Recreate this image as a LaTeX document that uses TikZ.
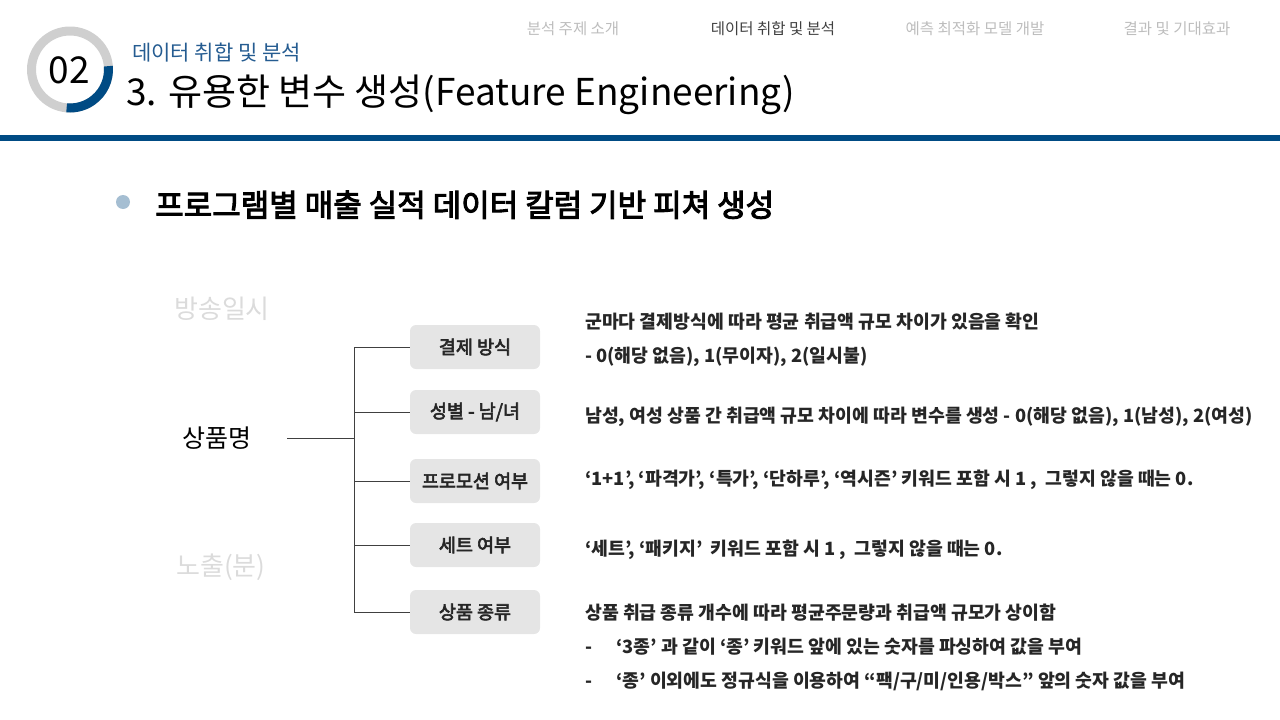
\documentclass[tikz,border=0pt]{standalone}
\usepackage{fontspec}
\setmainfont{Noto Sans CJK KR}
\newfontfamily\krmedium{Noto Sans CJK KR}[FakeBold=3.2]
\usetikzlibrary{positioning}

\newcommand\setpx[1]{\fontsize{#1pt}{#1pt}\selectfont}

\begin{document}
\begin{tikzpicture}[x=1pt,y=-1pt]
  % Colors
  \definecolor{navblue}{HTML}{004B84}
  \definecolor{subblue}{HTML}{255C91}
  \definecolor{bulletblue}{HTML}{A5BED2}
  \colorlet{ringgrey}{white!81!black}
  \colorlet{boxgrey}{white!90!black}
  \colorlet{ghostgrey}{white!86!black}
  \colorlet{navgrey}{white!74!black}
  \colorlet{navdark}{black!75}
  \colorlet{textdark}{black!85}

  % Styles
  \tikzstyle{nav item}=[inner sep=0pt,font=\setpx{15.5}]
  \tikzstyle{ghost text}=[inner sep=0pt,text=ghostgrey,font=\setpx{26}]
  \tikzstyle{feature box}=[fill=boxgrey,rounded corners=6pt,minimum width=130pt,
    minimum height=44pt,inner sep=0pt,text=textdark,font=\krmedium\setpx{18.5}]
  \tikzstyle{explain text}=[anchor=base west,inner sep=0pt,text=textdark,
    font=\setpx{18.3}\bfseries]
  \tikzstyle{branch line}=[black!75,line width=0.9pt]

  \useasboundingbox (0,0) rectangle (1280,720);

  % Header: logo ring
  \coordinate (logo) at (70,69.5);
  \fill[ringgrey,even odd rule] (logo) circle (43pt) (logo) circle (34pt);
  \fill[navblue] (logo) ++(5:43pt) arc[start angle=5,end angle=-95,radius=43pt]
    -- ++(85:9pt) arc[start angle=-95,end angle=5,radius=34pt] -- cycle;
  \node[inner sep=0pt,font=\setpx{37}] (num) at (69,70) {02};

  % Header: titles
  \node[anchor=base west,inner sep=0pt,text=subblue,font=\setpx{21}] (subtitle)
    at (132,60) {데이터 취합 및 분석};
  \node[anchor=base west,inner sep=0pt,font=\setpx{37}] (title)
    at (126,105) {3. 유용한 변수 생성(Feature Engineering)};

  \foreach \x/\txt/\col in {573/분석 주제 소개/navgrey, 773/데이터 취합 및 분석/navdark,
      975/예측 최적화 모델 개발/navgrey, 1177/결과 및 기대효과/navgrey}
    \node[nav item,text=\col] (nav-\x) at (\x,29) {\txt};

  \fill[navblue] (0,135) rectangle (1280,141);

  % Bullet heading
  \fill[bulletblue] (123,202) circle (7pt);
  \node[anchor=base west,inner sep=0pt,font=\krmedium\setpx{31}] (heading)
    at (155,216.5) {프로그램별 매출 실적 데이터 칼럼 기반 피쳐 생성};

  % Faded column names
  \node[ghost text] (airtime) at (222,309) {방송일시};
  \node[ghost text] (exposure) at (221,567) {노출(분)};

  % The tree
  \node[inner sep=0pt,minimum width=140pt,font=\setpx{25}] (root) at (217,438) {상품명};
  \coordinate (jn) at (354,438);

  \foreach \n/\y/\txt in {1/347/결제 방식, 2/412/{성별 - 남/녀}, 3/481/프로모션 여부,
      4/545/세트 여부, 5/612/상품 종류}
    \node[feature box] (box\n) at (475,\y) {\txt};

  \draw[branch line] (root.east) -- (jn);
  \draw[branch line] (jn |- box1.west) -- (jn |- box5.west);
  \foreach \n in {1,...,5}
    \draw[branch line] (jn |- box\n.west) -- (box\n.west);

  % Explanations
  \node[explain text] (pay1) at (585,328) {군마다 결제방식에 따라 평균 취급액 규모 차이가 있음을 확인};
  \node[explain text] (pay2) at (585,362) {- 0(해당 없음), 1(무이자), 2(일시불)};
  \node[explain text] (sex) at (585,422)
    {남성, 여성 상품 간 취급액 규모 차이에 따라 변수를 생성 - 0(해당 없음), 1(남성), 2(여성)};
  \node[explain text] (promo) at (585,485)
    {‘1+1’, ‘파격가’, ‘특가’, ‘단하루’, ‘역시즌’ 키워드 포함 시 1 ,\ \ 그렇지 않을 때는 0.};
  \node[explain text] (set) at (585,555)
    {‘세트’, ‘패키지’\ \ 키워드 포함 시 1 ,\ \ 그렇지 않을 때는 0.};
  \node[explain text] (kind1) at (585,619)
    {상품 취급 종류 개수에 따라 평균주문량과 취급액 규모가 상이함};
  \node[explain text] (kind2) at (585,653)
    {-\hspace{24pt}‘3종’ 과 같이 ‘종’ 키워드 앞에 있는 숫자를 파싱하여 값을 부여};
  \node[explain text] (kind3) at (585,687)
    {-\hspace{24pt}‘종’ 이외에도 정규식을 이용하여 “팩/구/미/인용/박스” 앞의 숫자 값을 부여};
\end{tikzpicture}
\end{document}
